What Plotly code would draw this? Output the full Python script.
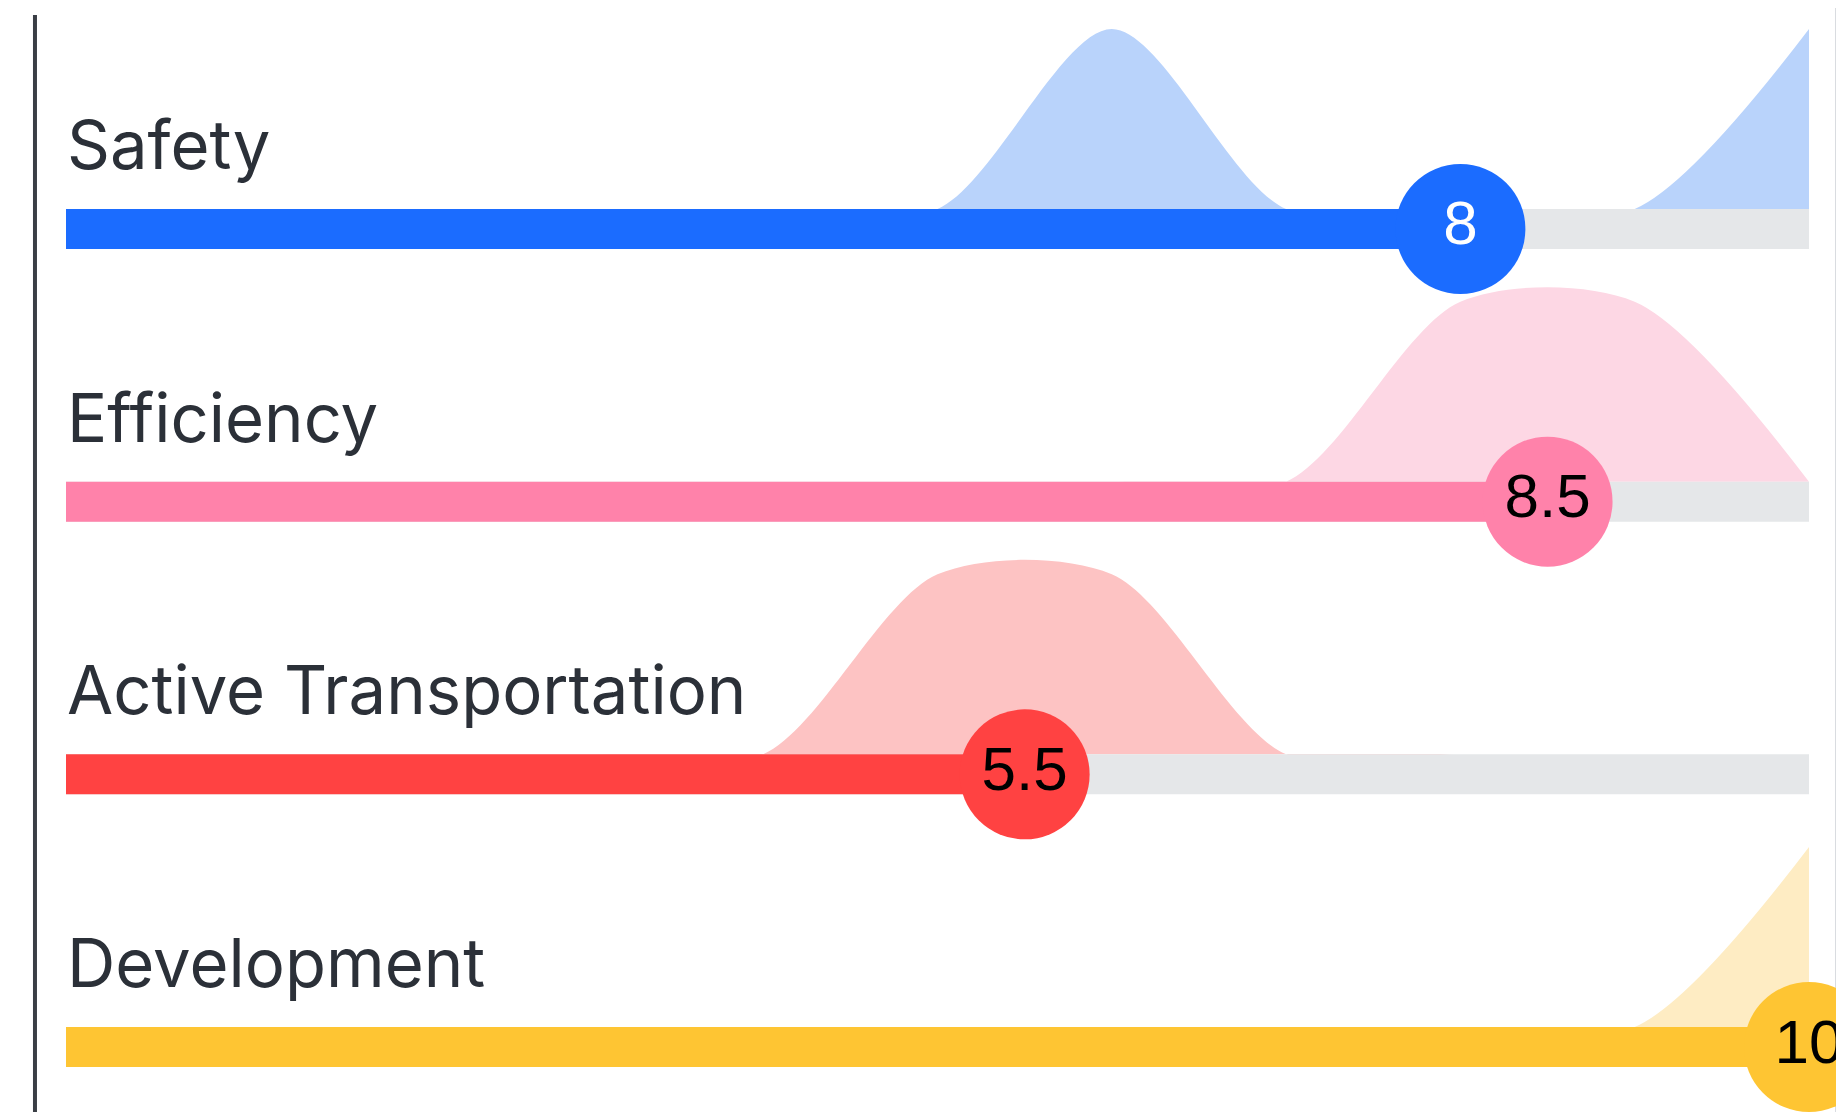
import numpy as np
import plotly.graph_objects as go

# survey data: one score (0-10) per response, per category
categories = ["Safety", "Efficiency", "Active Transportation", "Development"]
safety_votes = [6, 10]
efficiency_votes = [8, 9]
active_votes = [5, 6]
development_votes = [10]
score_points = list(range(0, 11))

all_votes = [safety_votes, efficiency_votes, active_votes, development_votes]

# styling
bar_colors = ["#1b6cff", "#ff82aa", "#ff4242", "#fec533"]
fill_colors = ["#b9d3fb", "#fdd7e4", "#fdc3c3", "#feecc3"]
num_colors = ["white", "black", "black", "black"]
track_color = "#e5e7e9"

ROW_PX = 272.7
BAR_PX = 40
DENS_PX = 180
half_bar = BAR_PX / 2 / ROW_PX
dens_h = DENS_PX / ROW_PX

fig = go.Figure()

scores = [float(np.mean(v)) for v in all_votes]

# density curves above each bar
for i, votes in enumerate(all_votes):
    counts = np.bincount(votes, minlength=len(score_points))[: len(score_points)]
    dens = counts / counts.max()
    base = -i + half_bar
    fig.add_trace(go.Scatter(
        x=[score_points[0], score_points[-1]], y=[base, base],
        mode="lines", line=dict(width=0), showlegend=False, hoverinfo="skip"
    ))
    fig.add_trace(go.Scatter(
        x=score_points, y=base + dens * dens_h,
        mode="lines", line=dict(width=0, shape="spline", smoothing=0.85),
        fill="tonexty", fillcolor=fill_colors[i],
        showlegend=False, hoverinfo="skip"
    ))

# grey tracks and coloured bars
for i, s in enumerate(scores):
    fig.add_trace(go.Scatter(
        x=[score_points[0], score_points[-1]], y=[-i, -i],
        mode="lines", line=dict(color=track_color, width=BAR_PX),
        showlegend=False, hoverinfo="skip"
    ))
    fig.add_trace(go.Scatter(
        x=[score_points[0], s], y=[-i, -i],
        mode="lines", line=dict(color=bar_colors[i], width=BAR_PX),
        showlegend=False, hoverinfo="skip"
    ))

# score bubbles
for i, s in enumerate(scores):
    fig.add_trace(go.Scatter(
        x=[s], y=[-i], mode="markers+text",
        marker=dict(size=130, color=bar_colors[i], line=dict(width=0)),
        text=[f"{s:g}"], textposition="middle center",
        textfont=dict(family="Liberation Sans, Arial", size=62, color=num_colors[i]),
        cliponaxis=False, showlegend=False,
        hovertemplate=categories[i] + ": %{x}<extra></extra>"
    ))

# category labels
for i, name in enumerate(categories):
    fig.add_annotation(
        x=0, y=-i + half_bar + 0.084, xref="x", yref="y",
        text=name, showarrow=False, xanchor="left", yanchor="bottom",
        borderpad=0,
        font=dict(family="Inter, Lato, sans-serif", size=67, color="#2b3038")
    )

# page frame lines
fig.add_shape(type="line", xref="paper", yref="paper",
              x0=-0.0178, x1=-0.0178, y0=1 - 7 / 1112, y1=-0.02,
              line=dict(color="#3a3e45", width=4), layer="above")
fig.add_shape(type="line", xref="paper", yref="paper",
              x0=1.0155, x1=1.0155, y0=1.02, y1=-0.02,
              line=dict(color="#d9dce0", width=2), layer="below")

# the page body adds an 8px offset, so the margins compensate for it
fig.update_layout(
    width=1844, height=1112,
    margin=dict(l=58, r=43, t=0, b=0),
    paper_bgcolor="white", plot_bgcolor="white",
    showlegend=False,
)
fig.update_xaxes(range=[0, 10], visible=False, fixedrange=True)
fig.update_yaxes(range=[-3.2676, 0.8104], visible=False, fixedrange=True)

fig.write_html("out.html")
